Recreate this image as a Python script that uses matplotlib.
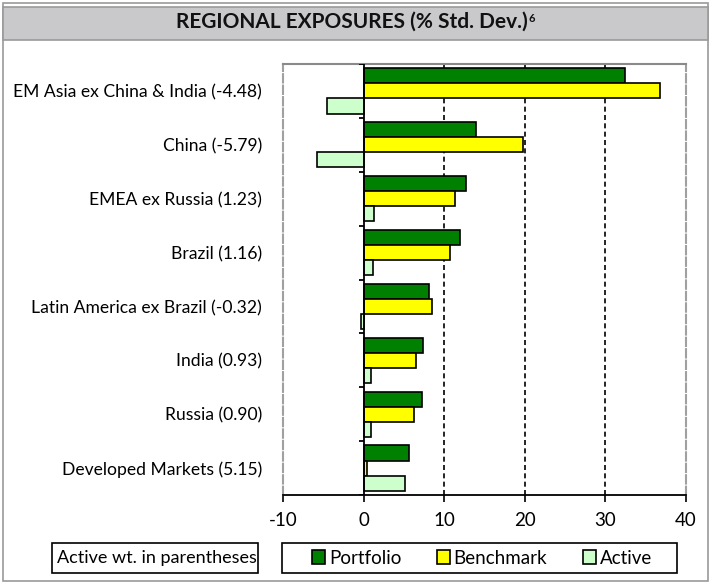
import matplotlib
matplotlib.use("Agg")
import matplotlib.pyplot as plt
from matplotlib.patches import Rectangle, Patch
import numpy as np

plt.rcParams['font.family'] = ['Lato', 'DejaVu Sans']

categories = ["EM Asia ex China & India (-4.48)", "China (-5.79)", "EMEA ex Russia (1.23)",
              "Brazil (1.16)", "Latin America ex Brazil (-0.32)", "India (0.93)",
              "Russia (0.90)", "Developed Markets (5.15)"]
portfolio = [32.4, 14.0, 12.7, 11.9, 8.1, 7.4, 7.2, 5.6]
benchmark = [36.8, 19.8, 11.3, 10.7, 8.5, 6.5, 6.3, 0.45]
active = [-4.48, -5.79, 1.23, 1.16, -0.32, 0.93, 0.90, 5.15]
xticks = [-10, 0, 10, 20, 30, 40]
series_names = ["Portfolio", "Benchmark", "Active"]
colors = ["#008000", "#FFFF00", "#CCFFCC"]

W, H = 712, 584
fig = plt.figure(figsize=(W / 100, H / 100), dpi=100)

def fx(px):
    return px / W

def fy(py):
    return 1 - py / H

# outer border
fig.patches.append(Rectangle((fx(3), fy(581)), fx(705), (578) / H, transform=fig.transFigure,
                             facecolor="none", edgecolor="#9a9a9a", lw=1.2, zorder=0))
# title band
fig.patches.append(Rectangle((fx(3), fy(40)), fx(705), 33 / H, transform=fig.transFigure,
                             facecolor="#C9C9CB", edgecolor="#9a9a9a", lw=1.2, zorder=1))
title = fig.text(fx(352), fy(22), "REGIONAL EXPOSURES (% Std. Dev.)", ha="center", va="center",
                 fontsize=15, fontweight="bold", color="#111111")
fig.canvas.draw()
r = fig.canvas.get_renderer()
bb = title.get_window_extent(r)
fig.text(bb.x1 / W + 0.001, bb.y1 / H - 0.002, "6", ha="left", va="top", fontsize=8,
         fontweight="bold", color="#111111")

ax = fig.add_axes([fx(283), fy(495), fx(686) - fx(283), (495 - 64) / H])
y = np.arange(len(categories))
h = 0.28
ax.barh(y - h, portfolio, height=h, color=colors[0], edgecolor="black", lw=1.2, zorder=3)
ax.barh(y, benchmark, height=h, color=colors[1], edgecolor="black", lw=1.2, zorder=3)
ax.barh(y + h, active, height=h, color=colors[2], edgecolor="black", lw=1.2, zorder=3)

ax.set_xlim(-10, 40)
ax.set_ylim(len(categories) - 0.5, -0.5)
ax.set_xticks(xticks)
ax.set_xticklabels([str(v) for v in xticks], fontsize=13.5)
ax.tick_params(axis="x", direction="out", length=5, width=1.2, color="black", pad=7)
ax.set_yticks(y)
ax.set_yticklabels(categories, fontsize=12.6)
ax.tick_params(axis="y", length=0, pad=15)

for v in xticks[2:-1]:
    ax.axvline(v, color="black", lw=1.2, ls=(0, (3, 2)), zorder=2)
ax.axvline(0, color="black", lw=1.3, zorder=4)
bounds = np.arange(len(categories) + 1) - 0.5
ax.hlines(bounds, -0.6, 0, color="black", lw=1.3, zorder=4)

ax.spines["top"].set_color("#8a8a8a")
ax.spines["top"].set_linewidth(1.5)
for s in ["left", "right"]:
    ax.spines[s].set_color("#a0a0a0")
    ax.spines[s].set_linewidth(1.5)
    ax.spines[s].set_linestyle((0, (4, 1.5)))
ax.spines["bottom"].set_color("black")
ax.spines["bottom"].set_linewidth(1.3)

# left note box
fig.patches.append(Rectangle((fx(52), fy(573)), fx(206), 30 / H, transform=fig.transFigure,
                             facecolor="white", edgecolor="black", lw=1.2, zorder=2))
fig.text(fx(157), fy(558), "Active wt. in parentheses", ha="center", va="center", fontsize=13,
         zorder=3)

# legend box
fig.patches.append(Rectangle((fx(282), fy(573)), fx(395), 30 / H, transform=fig.transFigure,
                             facecolor="white", edgecolor="black", lw=1.2, zorder=2))
handles = [Patch(facecolor=c, edgecolor="black", lw=1.2) for c in colors]
leg = fig.legend(handles, series_names, loc="center", bbox_to_anchor=(fx(482), fy(558)),
                 ncol=3, frameon=False, fontsize=13.5, handlelength=0.7, handleheight=0.7,
                 handletextpad=0.2, columnspacing=1.9, borderaxespad=0)
leg.set_zorder(5)

fig.savefig("out.png", dpi=100)
